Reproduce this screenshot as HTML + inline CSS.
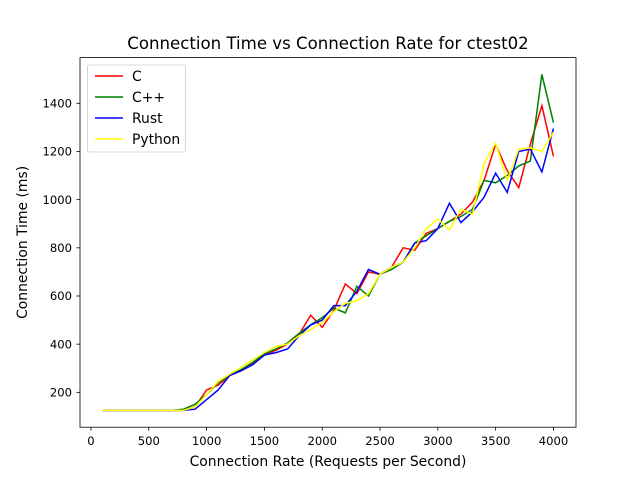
<!DOCTYPE html>
<html><head><meta charset="utf-8"><style>
body{margin:0;background:#fff}
svg text{font-family:"DejaVu Sans","Liberation Sans",sans-serif;fill:#000}
</style></head><body>
<svg id="chart" width="640" height="480">
<rect width="640" height="480" fill="#fff"/>
<text x="328" y="49" font-size="16.6" text-anchor="middle">Connection Time vs Connection Rate for ctest02</text>
<g id="plot"></g>
<rect x="80" y="57.6" width="496" height="369.6" fill="none" stroke="#000" stroke-width="0.8"/>
<g id="xt"></g><g id="yt"></g>
<text x="328" y="466" font-size="13.9" text-anchor="middle">Connection Rate (Requests per Second)</text>
<text transform="translate(27,242.4) rotate(-90)" font-size="13.9" text-anchor="middle">Connection Time (ms)</text>
<g id="legend"></g>
</svg>
<script>
const xs=[100,200,300,400,500,600,700,800,900,1000,1100,1200,1300,1400,1500,1600,1700,1800,1900,2000,2100,2200,2300,2400,2500,2600,2700,2800,2900,3000,3100,3200,3300,3400,3500,3600,3700,3800,3900,4000];
const seriesC=[125,125,125,125,125,125,125,125,140,210,230,270,290,320,355,375,400,440,520,470,540,650,610,700,690,720,800,790,860,880,910,940,990,1080,1230,1120,1050,1230,1390,1180];
const seriesCpp=[125,125,125,125,125,125,125,130,150,190,240,270,295,325,360,380,405,445,480,510,550,530,640,600,690,710,740,820,850,880,910,930,960,1080,1070,1100,1140,1160,1520,1320];
const seriesRust=[125,125,125,125,125,125,125,125,130,170,210,270,290,315,355,365,380,435,480,500,560,560,620,710,690,720,740,820,830,880,985,905,950,1010,1110,1030,1200,1210,1115,1295];
const seriesPython=[125,125,125,125,125,125,125,125,140,190,245,275,305,335,365,390,400,435,460,490,535,570,580,610,690,720,740,800,880,920,875,960,940,1150,1235,1080,1210,1215,1200,1280];
const seriesNames=["C","C++","Rust","Python"];
const seriesColors=["#ff0000","#008000","#0000ff","#ffff00"];
const xTicks=[0,500,1000,1500,2000,2500,3000,3500,4000];
const yTicks=[200,400,600,800,1000,1200,1400];
const NS="http://www.w3.org/2000/svg";
const allS=[seriesC,seriesCpp,seriesRust,seriesPython];
const xmin=Math.min(...xs),xmax=Math.max(...xs),xp=(xmax-xmin)*0.05;
const flat=allS.flat();const ymin=Math.min(...flat),ymax=Math.max(...flat),yp=(ymax-ymin)*0.05;
const X=v=>80+(v-(xmin-xp))/((xmax+xp)-(xmin-xp))*496;
const Y=v=>427.2-(v-(ymin-yp))/((ymax+yp)-(ymin-yp))*369.6;
function mk(t,a,p){const e=document.createElementNS(NS,t);for(const k in a)e.setAttribute(k,a[k]);p.appendChild(e);return e;}
const plot=document.getElementById('plot');
allS.forEach((s,i)=>{
 const l=mk('polyline',{points:s.map((v,j)=>X(xs[j])+','+Y(v)).join(' '),fill:'none',stroke:seriesColors[i],'stroke-width':1.5},plot);
 
 
});
const xt=document.getElementById('xt');
xTicks.forEach(t=>{
 const x=X(t);
 const tk=mk('line',{x1:x,x2:x,y1:427.2,y2:430.7,stroke:'#000','stroke-width':0.8},xt);
 
 
 const tx=mk('text',{x:x,y:445,'font-size':11.6,'text-anchor':'middle'},xt);tx.textContent=t;
 
 
});
const yt=document.getElementById('yt');
yTicks.forEach(t=>{
 const y=Y(t);
 const tk=mk('line',{x1:76.5,x2:80,y1:y,y2:y,stroke:'#000','stroke-width':0.8},yt);
 
 
 const tx=mk('text',{x:72,y:y+4.2,'font-size':11.6,'text-anchor':'end'},yt);tx.textContent=t;
 
 
});
const lg=document.getElementById('legend');
mk('rect',{x:87.5,y:65,width:98,height:87,rx:2,fill:'#fff','fill-opacity':0.8,stroke:'#ccc','stroke-width':0.8},lg);
seriesNames.forEach((n,i)=>{
 const y=76+i*21;
 const ln=mk('line',{x1:95,x2:123,y1:y,y2:y,stroke:seriesColors[i],'stroke-width':1.5},lg);
 
 
 const tx=mk('text',{x:132,y:y+4.8,'font-size':13.9},lg);tx.textContent=n;
 
 
});
</script>
</body></html>
